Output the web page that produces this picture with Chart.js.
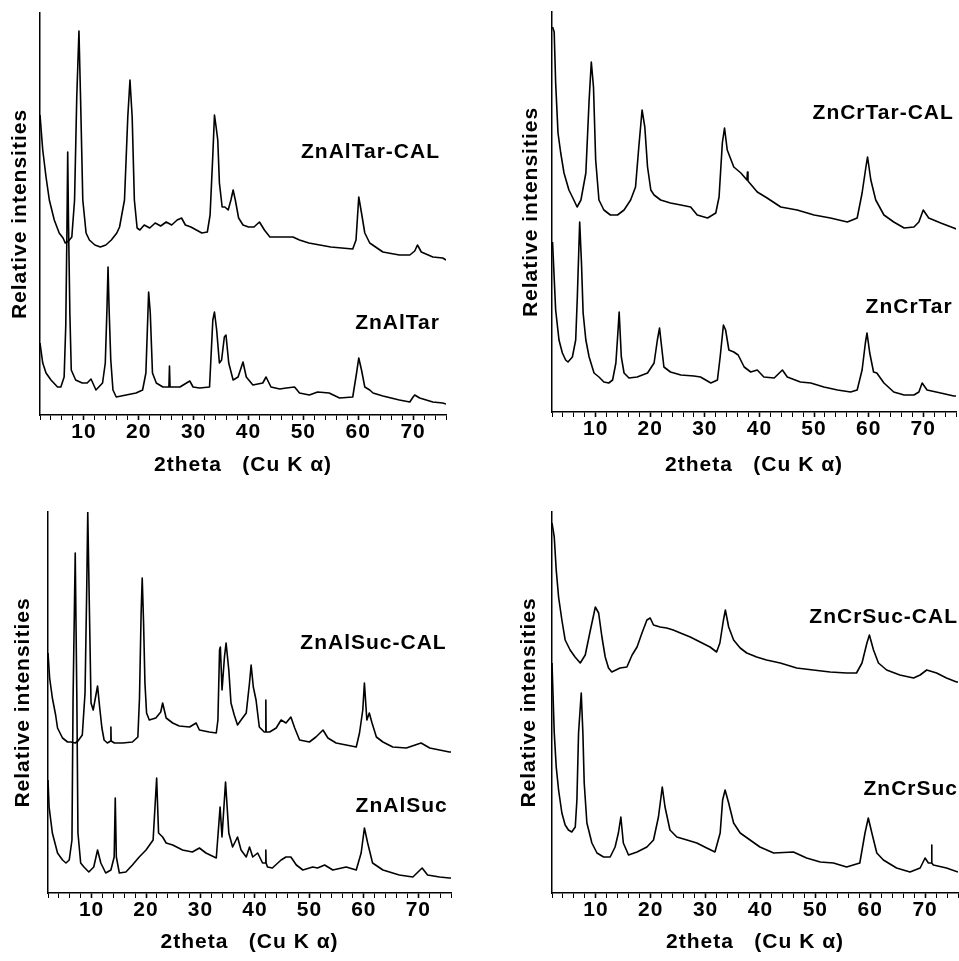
<!DOCTYPE html>
<html>
<head>
<meta charset="utf-8">
<script src="https://cdn.jsdelivr.net/npm/chart.js@4.4.1/dist/chart.umd.min.js"></script>
<style>
html,body{margin:0;padding:0;background:#fff;}
#wrap{position:relative;width:959px;height:961px;overflow:hidden;background:#fff;}
canvas{position:absolute;}
</style>
</head>
<body>
<div id="wrap">
<canvas id="c1" width="480" height="480" style="left:0px;top:0px;width:480px;height:480px"></canvas>
<canvas id="c2" width="479" height="480" style="left:480px;top:0px;width:479px;height:480px"></canvas>
<canvas id="c3" width="480" height="481" style="left:0px;top:480px;width:480px;height:481px"></canvas>
<canvas id="c4" width="479" height="481" style="left:480px;top:480px;width:479px;height:481px"></canvas>
</div>
<script>
// ---------- DATA: [2theta (deg), relative intensity (a.u.)] ----------
const ZnAlTarCAL = [[2.0,300],[2.5,265],[3.1,238],[3.7,215],[4.6,195],[5.5,182],[6.2,177],[6.6,172],[7.2,174],[7.8,178],[8.3,215],[8.7,318],[9.1,384],[9.4,315],[9.8,215],[10.4,182],[11.0,175],[12.0,170],[13.0,168],[14.0,170],[15.0,175],[16.0,182],[16.5,188],[17.4,215],[18.0,298],[18.4,335],[18.8,298],[19.2,215],[19.7,187],[20.2,185],[21,190],[22,187],[23,192],[24,189],[25,193],[26,190],[27,195],[27.8,197],[28.5,190],[29.5,188],[30.5,185],[31.5,182],[32.5,183],[33.0,200],[33.5,260],[33.8,300],[34.1,288],[34.4,275],[34.7,232],[35.2,208],[35.7,208],[36.3,205],[36.8,215],[37.2,225],[37.6,215],[38.2,197],[39,190],[40,188],[41,188],[42,193],[42.9,185],[43.9,178],[45.7,178],[48.1,178],[49.3,175],[51,172],[53,170],[55,168],[57,167],[59,166],[59.6,175],[60.1,218],[60.6,202],[61.2,182],[62.1,172],[64.5,163],[67.5,160],[69.4,160],[70.3,164],[70.8,170],[71.5,163],[73.6,158],[75.4,157],[76,155]];
const ZnAlTar = [[2.0,72],[2.5,52],[3.1,42],[4.0,35],[5.2,28],[5.8,28],[6.4,38],[6.7,90],[6.9,180],[7.05,263],[7.2,190],[7.45,100],[7.7,45],[8.5,35],[9.7,32],[10.6,32],[11.3,36],[12.2,25],[13.4,32],[13.9,52],[14.2,105],[14.4,148],[14.6,105],[14.9,55],[15.3,25],[15.9,18],[17.7,20],[19.5,22],[20.7,25],[21.3,42],[21.8,123],[22.1,102],[22.5,42],[23.2,32],[24.4,28],[25.5,28],[25.6,49],[25.7,28],[27.5,28],[29.3,34],[29.9,28],[31.1,27],[32.9,28],[33.5,95],[33.8,103],[34.2,85],[34.7,52],[35.1,55],[35.6,78],[35.9,80],[36.4,52],[37.2,35],[38.1,38],[39.0,53],[39.6,38],[40.8,30],[42.6,32],[43.2,38],[44.1,28],[45.7,26],[46.9,27],[48.4,28],[49.3,22],[51.1,20],[52.6,23],[54.7,22],[56.6,17],[59.0,18],[59.7,42],[60.1,57],[60.6,45],[61.2,28],[62.1,25],[62.7,22],[64.5,19],[67.5,15],[69.4,13],[70.0,18],[70.3,20],[71.2,17],[73.6,13],[75.4,12],[76.0,11]];

const ZnCrTarCAL = [[2.1,385],[2.4,380],[2.67,329],[3.1,279],[3.6,259],[4.2,239],[5.1,222],[6.0,212],[6.6,205],[7.3,212],[8.2,239],[8.8,312],[9.2,350],[9.6,325],[10.0,252],[10.6,212],[11.5,202],[12.7,197],[14.0,197],[15.2,202],[16.4,212],[17.3,225],[17.9,265],[18.5,302],[19.0,285],[19.5,245],[20.1,222],[20.7,217],[21.9,212],[23.7,209],[25.6,207],[27.4,205],[28.6,197],[30.5,194],[32.0,199],[32.6,215],[33.2,269],[33.6,284],[34.1,262],[35.3,245],[36.6,239],[37.7,232],[37.8,240],[37.9,231],[39.6,220],[41.4,214],[43.9,205],[46.9,202],[50.0,197],[53.0,194],[56.1,190],[57.9,194],[58.8,219],[59.5,245],[59.8,255],[60.4,232],[61.3,212],[62.8,197],[64.6,190],[66.5,184],[68.3,185],[69.2,190],[70.0,202],[71.0,194],[73.2,189],[75.6,184],[76,183]];
const ZnCrTar = [[2.1,170],[2.67,102],[3.28,72],[3.9,59],[4.5,52],[4.93,50],[5.73,55],[6.34,72],[6.64,115],[7.07,190],[7.4,149],[7.7,99],[8.2,72],[8.8,55],[9.7,39],[10.6,35],[11.5,30],[12.4,29],[13.1,32],[13.7,49],[14.1,82],[14.3,100],[14.7,55],[15.2,39],[16.1,34],[17.6,35],[19.5,39],[20.7,49],[21.3,72],[21.7,84],[22.0,69],[22.5,45],[23.7,40],[25.6,37],[28.0,36],[29.2,35],[31.1,29],[32.3,32],[32.8,55],[33.4,87],[33.8,82],[34.4,62],[35.3,60],[36.1,57],[37.2,45],[38.4,40],[39.6,42],[40.8,35],[42.7,34],[44.2,42],[45.1,35],[47.5,30],[49.4,29],[51.8,25],[54.3,22],[56.7,20],[57.9,22],[58.8,42],[59.4,69],[59.7,79],[60.2,59],[60.9,40],[61.5,39],[62.8,29],[64.6,20],[66.5,17],[68.3,17],[69.2,20],[69.8,29],[70.7,22],[73.2,19],[75.6,16],[76,16]];

const ZnAlSucCAL = [[2.0,240],[2.3,215],[2.8,195],[3.4,178],[3.75,165],[4.67,155],[5.6,151],[6.2,151],[7.0,150],[7.5,152],[8.3,158],[8.8,200],[9.1,300],[9.3,381],[9.55,300],[9.9,190],[10.3,183],[10.7,195],[11.1,207],[11.5,185],[11.9,165],[12.3,153],[12.9,150],[13.5,152],[13.55,166],[13.6,152],[14.2,150],[15.7,150],[17.5,151],[18.5,156],[18.8,195],[19.1,280],[19.3,315],[19.55,270],[19.8,210],[20.1,180],[20.6,173],[21.8,175],[22.7,181],[23.05,190],[23.7,175],[24.9,170],[26.1,167],[28.0,166],[29.2,170],[29.8,163],[31.6,161],[32.9,160],[33.2,173],[33.5,243],[33.65,246],[33.96,203],[34.4,236],[34.7,250],[35.2,223],[35.6,190],[36.2,178],[36.8,168],[37.45,173],[38.4,180],[39.0,210],[39.3,228],[39.7,206],[40.2,193],[40.8,166],[41.7,161],[41.95,161],[42.0,193],[42.05,161],[42.7,161],[43.9,165],[44.8,173],[45.7,170],[46.6,176],[47.3,165],[48.2,153],[50.0,151],[51.2,156],[52.5,163],[53.4,155],[54.9,150],[56.75,148],[58.6,146],[59.2,160],[59.8,183],[60.1,210],[60.55,173],[61.0,180],[61.5,170],[62.3,156],[63.5,151],[65.3,146],[67.8,145],[70.5,150],[72.1,145],[75.7,141],[76,141]];
const ZnAlSuc = [[2.0,113],[2.2,86],[2.8,60],[3.75,40],[4.67,33],[5.3,30],[5.9,33],[6.4,53],[6.6,193],[7.0,340],[7.3,193],[7.5,60],[8.0,30],[8.6,26],[9.5,21],[10.4,26],[11.1,43],[11.7,30],[12.6,20],[13.55,23],[14.15,36],[14.35,95],[14.55,36],[15.1,20],[16.3,21],[17.5,28],[18.75,36],[20.0,43],[21.3,53],[21.95,115],[22.3,60],[23.05,56],[23.7,50],[24.9,48],[26.7,43],[28.5,41],[29.8,45],[31.0,40],[32.9,35],[33.6,86],[33.95,56],[34.6,111],[35.2,60],[35.9,46],[36.8,56],[37.45,43],[38.4,36],[39.0,46],[39.6,36],[40.5,40],[41.4,30],[41.95,30],[42.0,43],[42.05,30],[42.3,26],[43.2,25],[44.8,33],[45.7,36],[46.6,36],[47.6,28],[48.8,23],[50.6,26],[51.5,25],[52.8,28],[54.3,23],[56.75,26],[58.6,23],[59.5,40],[60.1,65],[60.7,50],[61.6,30],[63.5,23],[64.7,21],[66.5,18],[69.0,16],[70.7,25],[71.7,18],[73.9,16],[75.7,15],[76,15]];

const ZnCrSucCAL = [[2.0,370],[2.41,356],[2.77,323],[3.2,296],[3.8,273],[4.4,253],[5.3,243],[6.2,236],[7.15,230],[8.06,238],[9.0,263],[9.9,286],[10.5,280],[11.1,256],[11.7,236],[12.3,225],[12.9,221],[14.4,225],[15.65,226],[16.6,238],[17.5,246],[18.4,260],[19.3,273],[19.9,275],[20.5,268],[21.7,266],[22.9,265],[24.1,263],[25.4,260],[27.2,256],[29.0,251],[30.8,246],[32.0,241],[32.6,250],[33.25,273],[33.6,283],[34.2,266],[35.1,253],[36.3,245],[37.5,240],[39.3,236],[41.1,233],[43.6,230],[46.6,225],[49.6,223],[52.7,221],[55.7,220],[57.5,220],[58.5,230],[59.4,250],[59.85,258],[60.6,243],[61.5,230],[63.0,223],[65.4,218],[67.9,215],[69.1,218],[70.3,223],[72.1,220],[73.9,215],[75.75,211],[76,211]];
const ZnCrSuc = [[2.0,230],[2.41,160],[2.77,126],[3.2,103],[3.8,80],[4.4,68],[5.0,63],[5.6,61],[6.24,66],[6.54,93],[6.84,160],[7.33,200],[7.63,160],[7.87,110],[8.36,70],[9.27,50],[10.2,40],[11.4,36],[12.6,36],[13.5,46],[14.1,60],[14.55,76],[15.0,50],[15.95,38],[17.5,41],[19.3,46],[20.5,53],[21.4,76],[22.1,106],[22.6,86],[23.5,63],[24.75,56],[26.6,53],[28.4,50],[30.2,45],[31.7,41],[32.65,60],[33.1,93],[33.55,103],[34.2,90],[35.1,70],[36.3,60],[38.1,53],[39.9,46],[42.4,40],[46.0,41],[48.4,35],[50.9,31],[53.3,30],[55.7,26],[58.1,30],[59.05,60],[59.65,75],[60.3,60],[61.2,40],[62.4,33],[64.8,25],[67.25,21],[69.1,25],[70.0,35],[70.6,30],[71.15,30],[71.2,48],[71.25,30],[71.5,28],[73.9,25],[76.0,21]];

// sample labels: [text, 2theta at right edge, intensity at text middle]
const labelsTar = [["ZnAlTar-CAL",74.9,263],["ZnAlTar",74.9,92]];
const labelsCrTar = [["ZnCrTar-CAL",75.6,299],["ZnCrTar",75.4,105]];
const labelsAlSuc = [["ZnAlSuc-CAL",75.2,250],["ZnAlSuc",75.4,87]];
const labelsCrSuc = [["ZnCrSuc-CAL",76.0,276],["ZnCrSuc",76.0,104]];

const xTitle = "2theta   (Cu K \u03b1)";
const yTitle = "Relative intensities";
const xMin = 2, xMax = 76, xStep = 2;

// ---------- RENDERING ----------
const FONT = '"Liberation Sans", Arial, Helvetica, sans-serif';
const FS = 21;
const sampleLabelPlugin = {
  id: 'sampleLabels',
  beforeDraw(chart) { chart.ctx.letterSpacing = '1px'; },
  afterDatasetsDraw(chart, args, opts) {
    const {ctx, scales: {x, y}} = chart;
    ctx.save();
    ctx.font = 'bold ' + FS + 'px ' + FONT;
    ctx.fillStyle = '#000';
    ctx.textAlign = 'right';
    ctx.textBaseline = 'middle';
    ctx.letterSpacing = '1px';
    (opts.items || []).forEach(it => ctx.fillText(it[0], x.getPixelForValue(it[1]), y.getPixelForValue(it[2])));
    ctx.restore();
  }
};

function toXY(arr) { return arr.map(p => ({x: p[0], y: p[1]})); }

function makePanel(id, upper, lower, labels, L) {
  const ctx = document.getElementById(id);
  return new Chart(ctx, {
    type: 'line',
    data: {
      datasets: [
        {data: toXY(upper), borderColor: '#000', borderWidth: 1.6, pointRadius: 0, tension: 0, fill: false, borderJoinStyle: 'round'},
        {data: toXY(lower), borderColor: '#000', borderWidth: 1.6, pointRadius: 0, tension: 0, fill: false, borderJoinStyle: 'round'}
      ]
    },
    options: {
      responsive: false,
      animation: false,
      events: [],
      layout: {padding: L.pad},
      plugins: {
        legend: {display: false},
        tooltip: {enabled: false},
        sampleLabels: {items: labels}
      },
      scales: {
        x: {
          type: 'linear', min: xMin, max: xMax,
          afterFit: s => { s.height = L.xh; },
          ticks: {
            stepSize: xStep, autoSkip: false, maxRotation: 0, minRotation: 0, padding: 0,
            color: '#000', font: {family: FONT, size: FS, weight: 'bold'},
            callback: v => (v % 10 === 0 ? String(v) : '')
          },
          grid: {display: true, drawOnChartArea: false, drawTicks: true, tickLength: 5, color: '#000',
                 tickWidth: c => (c.tick && c.tick.value % 10 === 0 ? 1.6 : 1)},
          border: {display: true, color: '#000', width: 1.5},
          title: {display: true, text: xTitle, color: '#000', padding: {top: 0, bottom: 0},
                  font: {family: FONT, size: FS, weight: 'bold'}}
        },
        y: {
          min: 0, max: L.ymax,
          afterFit: s => { s.width = L.yw; },
          ticks: {display: false},
          grid: {display: false},
          border: {display: true, color: '#000', width: 1.5},
          title: {display: true, text: yTitle, color: '#000', padding: {top: L.yt, bottom: 0},
                  font: {family: FONT, size: FS, weight: 'bold'}}
        }
      }
    },
    plugins: [sampleLabelPlugin]
  });
}

makePanel('c1', ZnAlTarCAL, ZnAlTar, labelsTar,
  {pad: {left: 0, top: 13, right: 34, bottom: 2}, yw: 40, xh: 63, ymax: 402, yt: 8});
makePanel('c2', ZnCrTarCAL, ZnCrTar, labelsCrTar,
  {pad: {left: 30, top: 12, right: 3, bottom: 2}, yw: 42, xh: 66, ymax: 400, yt: 9});
makePanel('c3', ZnAlSucCAL, ZnAlSuc, labelsAlSuc,
  {pad: {left: 0, top: 32, right: 29, bottom: 6}, yw: 48, xh: 62, ymax: 381, yt: 11});
makePanel('c4', ZnCrSucCAL, ZnCrSuc, labelsCrSuc,
  {pad: {left: 30, top: 32, right: 1, bottom: 6}, yw: 42, xh: 62, ymax: 381, yt: 7});
</script>
</body>
</html>
